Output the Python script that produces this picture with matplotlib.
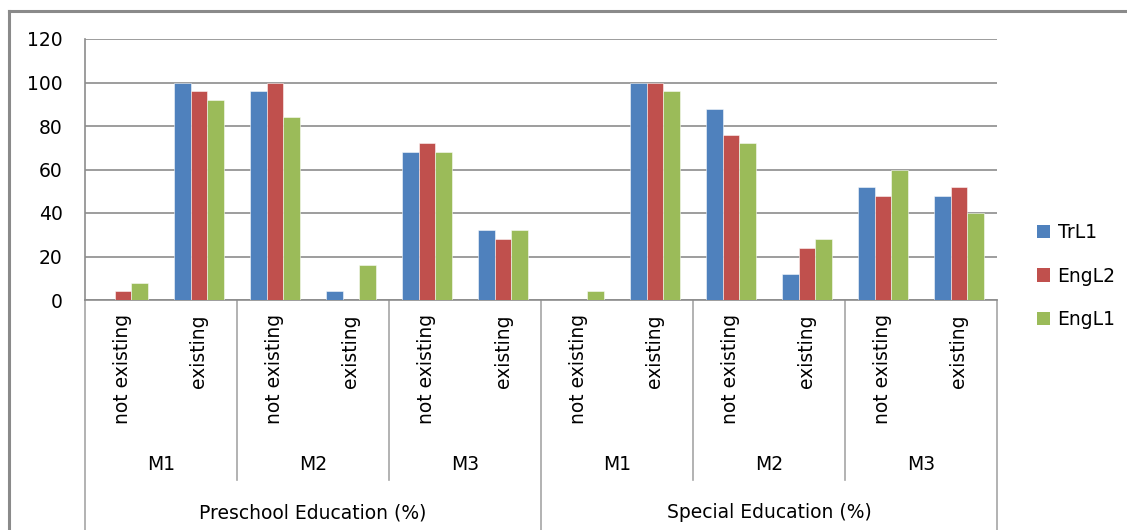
import numpy as np
import matplotlib.pyplot as plt
from matplotlib.lines import Line2D
from matplotlib.patches import Patch

# per-category percentages, in order:
# Preschool M1/M2/M3 (not existing, existing), then Special M1/M2/M3
trl1 = [0, 100, 96, 4, 68, 32, 0, 100, 88, 12, 52, 48]
engl2 = [4, 96, 100, 0, 72, 28, 0, 100, 76, 24, 48, 52]
engl1 = [8, 92, 84, 16, 68, 32, 4, 96, 72, 28, 60, 40]

series = ['TrL1', 'EngL2', 'EngL1']
colors = ['#4F81BD', '#C0504D', '#9BBB59']

sub_labels = ['not existing', 'existing'] * 6
mid_labels = ['M1', 'M2', 'M3'] * 2
top_labels = ['Preschool Education (%)', 'Special Education (%)']

plt.rcParams['font.family'] = ['DejaVu Sans']
fs = 13.5

fig = plt.figure(figsize=(11.27, 5.30), dpi=100)
W, H = 1127, 530
ax = fig.add_axes([85 / W, (H - 300) / H, (997 - 85) / W, (300 - 39) / H])

n = len(trl1)
x = np.arange(n) + 0.5
bw = 0.223
for k, vals in enumerate([trl1, engl2, engl1]):
    ax.bar(x + (k - 1) * bw, vals, width=bw, color=colors[k],
           edgecolor=(1, 1, 1, 0.6), linewidth=0.6, label=series[k], zorder=3)

ax.set_xlim(0, n)
ax.set_ylim(0, 120)
ax.set_yticks(range(0, 121, 20))
ax.yaxis.grid(True, color='#8c8c8c', linewidth=1.2, zorder=0)
ax.set_xticks([])
ax.tick_params(axis='y', length=0, pad=16, labelsize=fs)
for s in ['top', 'right']:
    ax.spines[s].set_visible(False)
for s in ['left', 'bottom']:
    ax.spines[s].set_color('#8c8c8c')
    ax.spines[s].set_linewidth(1.2)

# multi-level category axis below the plot
tr = ax.get_xaxis_transform()
ax_h = 300 - 39
def yax(py):
    return (300 - py) / ax_h

for i in range(n + 1):
    if i % 6 == 0:
        y_end = yax(535)
    elif i % 2 == 0:
        y_end = yax(480)
    else:
        continue
    ax.add_line(Line2D([i, i], [0, y_end], transform=tr, color='#a6a6a6',
                       linewidth=1.2, clip_on=False))

for i, t in enumerate(sub_labels):
    ax.text(i + 0.5, yax(314), t, transform=tr, rotation=90, ha='center',
            va='top', fontsize=fs)
for j, t in enumerate(mid_labels):
    ax.text(2 * j + 1, yax(464), t, transform=tr, ha='center', va='center',
            fontsize=fs)
for j, t in enumerate(top_labels):
    ax.text(6 * j + 3, yax(513), t, transform=tr, ha='center', va='center',
            fontsize=fs)

handles = [Patch(facecolor=c, edgecolor='none') for c in colors]
fig.legend(handles, series, loc='center left',
           bbox_to_anchor=(1020 / W, (H - 276) / H), frameon=False,
           fontsize=fs, handlelength=0.7, handleheight=0.7,
           handletextpad=0.4, labelspacing=1.3)

# outer chart border
fig.add_artist(Line2D([9 / W, 9 / W], [0, (H - 11) / H], color='#8a8a8a',
                      linewidth=2.2, transform=fig.transFigure))
fig.add_artist(Line2D([9 / W, 1], [(H - 11) / H, (H - 11) / H], color='#8a8a8a',
                      linewidth=2.2, transform=fig.transFigure))

fig.savefig('out.png', dpi=100)
